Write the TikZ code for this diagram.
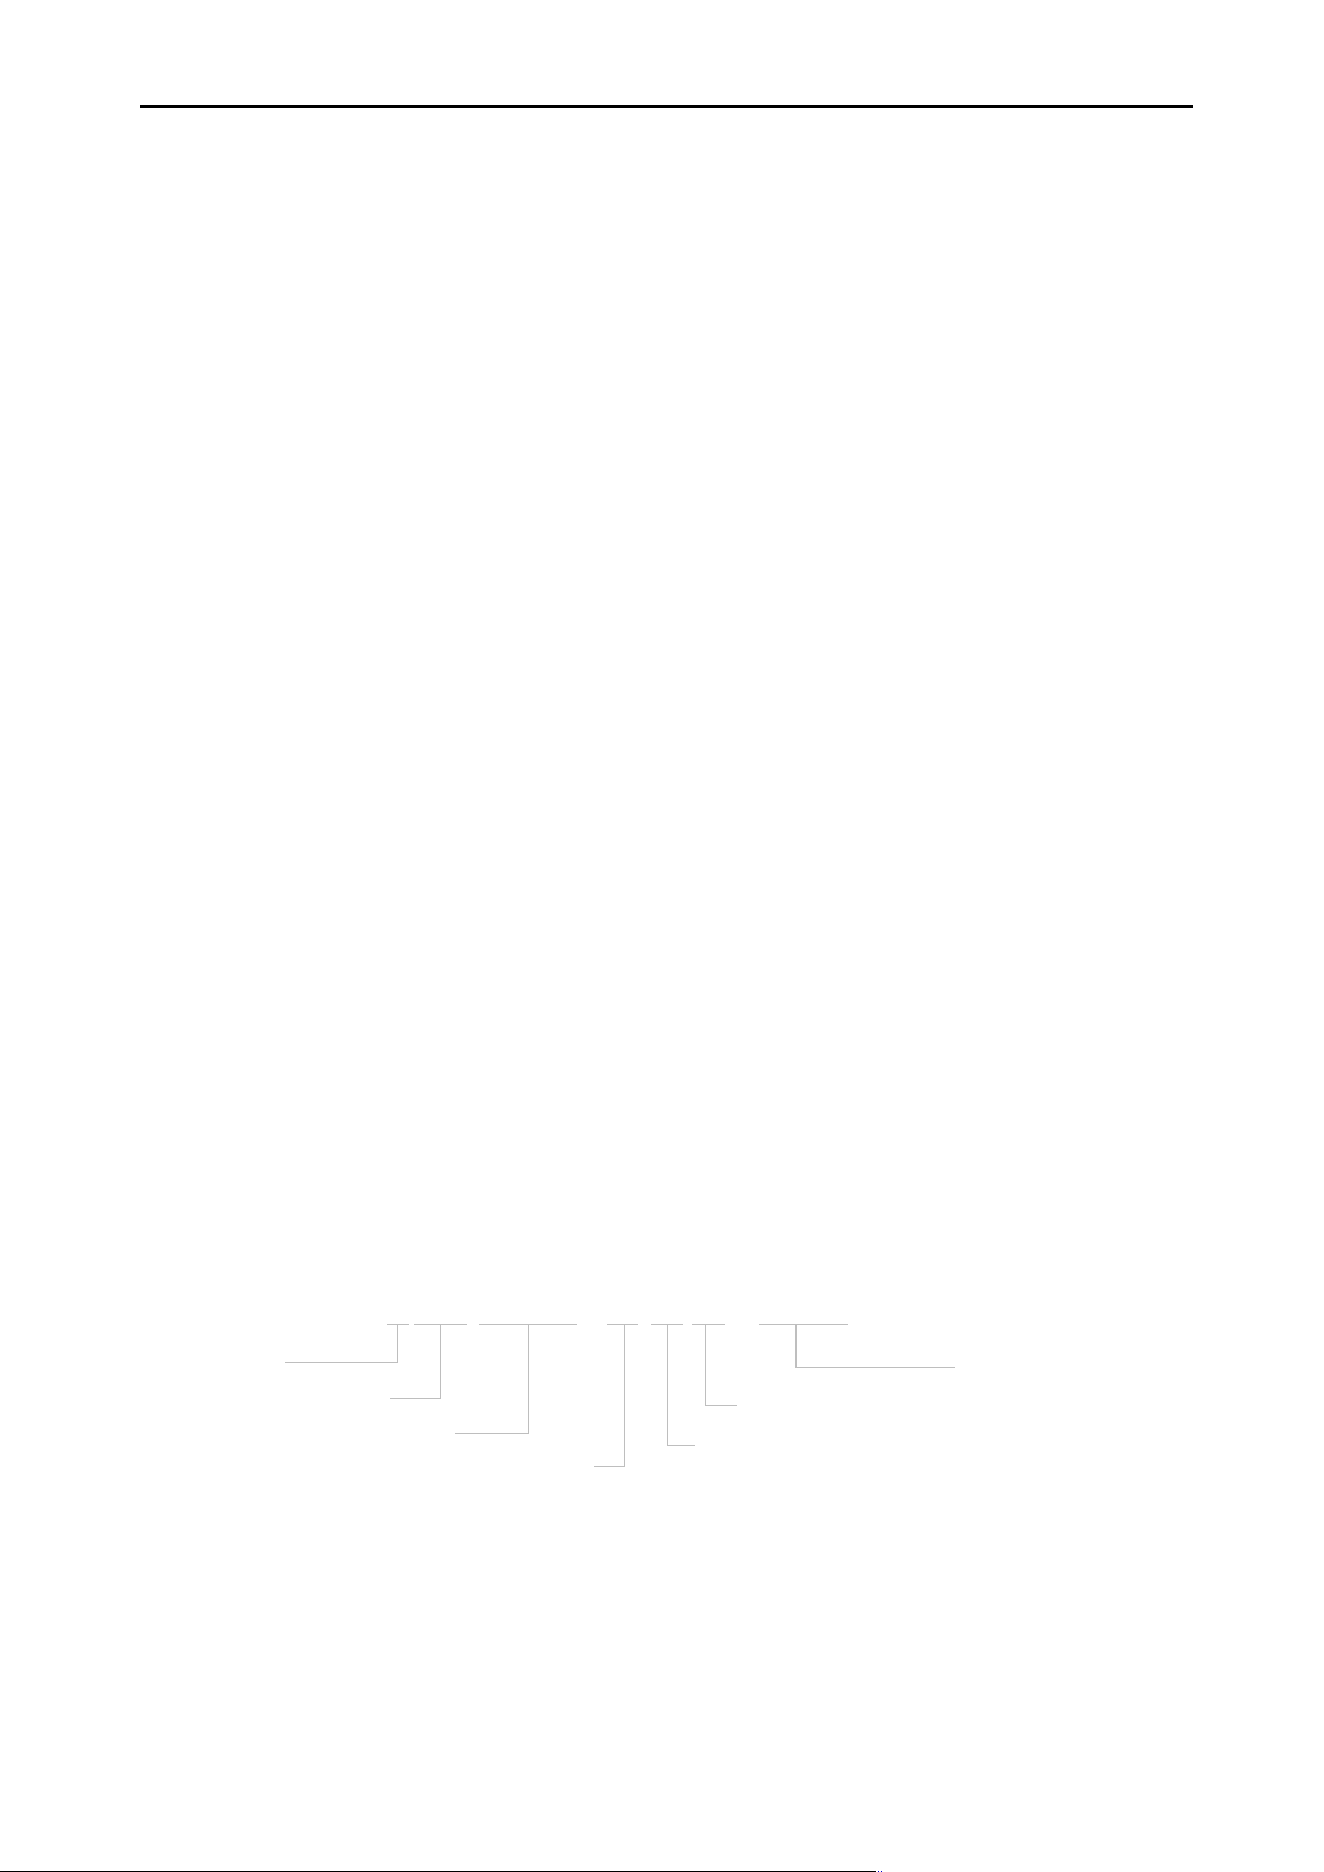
\documentclass[tikz,border=0pt]{standalone}
\begin{document}
\begin{tikzpicture}[x=1pt,y=-1pt,
  rule/.style={line width=3pt,black},
  footrule/.style={line width=1.2pt,black},
  brk/.style={line width=1pt,color={rgb,255:red,190;green,190;blue,190}},
  brkthick/.style={line width=2pt,color={rgb,255:red,190;green,190;blue,190}}]
\useasboundingbox (0,0) rectangle (1324,1872);
% header rule
\coordinate (hl) at (140,106.5);
\coordinate (hr) at (1193,106.5);
\draw[rule] (hl) -- (hr);
% footer rule
\coordinate (fl) at (0,1871.3);
\coordinate (fr) at (876,1871.3);
\draw[footrule] (fl) -- (fr);
\fill[blue!80!black] (877.5,1870.5) rectangle (878.5,1872);
\fill[blue!80!black] (880.5,1870.5) rectangle (881.5,1872);
% brackets
\draw[brk] (387,1324.5) -- (409,1324.5);
\draw[brk] (397.5,1324.5) -- (397.5,1362.5) -- (285,1362.5);
\draw[brk] (414,1324.5) -- (467,1324.5);
\draw[brk] (440.5,1324.5) -- (440.5,1398.5) -- (390,1398.5);
\draw[brk] (479,1324.5) -- (577,1324.5);
\draw[brk] (528.5,1324.5) -- (528.5,1433.5) -- (455,1433.5);
\draw[brk] (607,1324.5) -- (638,1324.5);
\draw[brk] (624.5,1324.5) -- (624.5,1466.5) -- (594,1466.5);
\draw[brk] (651,1324.5) -- (683,1324.5);
\draw[brk] (667.5,1324.5) -- (667.5,1445.5) -- (695,1445.5);
\draw[brk] (692,1324.5) -- (725,1324.5);
\draw[brk] (705.5,1324.5) -- (705.5,1405.5) -- (737,1405.5);
\draw[brk] (759,1324.5) -- (848,1324.5);
\draw[brkthick] (796,1324.5) -- (796,1367.5);
\draw[brk] (795,1367.5) -- (955,1367.5);
\end{tikzpicture}
\end{document}
